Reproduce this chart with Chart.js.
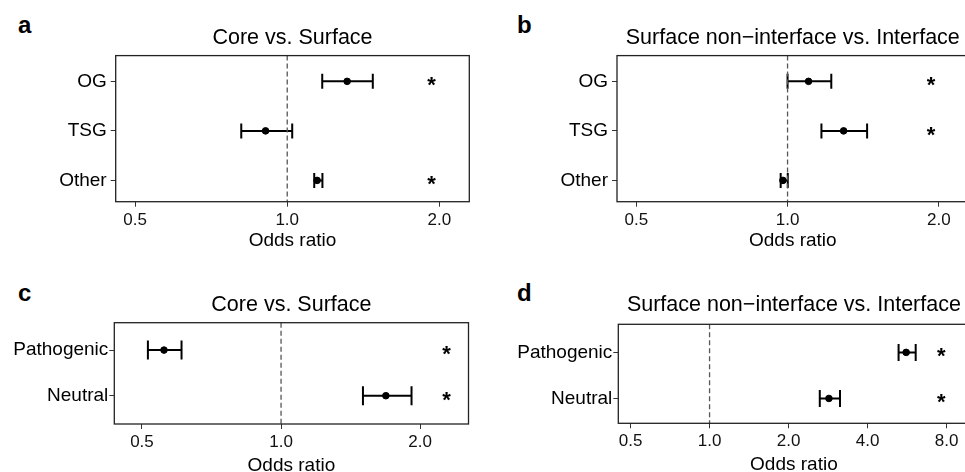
<!DOCTYPE html>
<html>
<head>
<meta charset="utf-8">
<script src="https://cdn.jsdelivr.net/npm/chart.js"></script>
<style>
  html, body { margin: 0; padding: 0; background: #fff; overflow: hidden; width: 965px; height: 472px; }
  .panel { position: absolute; }
  .tag { position: absolute; font: bold 24px "Liberation Sans", Arial, sans-serif; color: #000; line-height: 1; }
</style>
</head>
<body>
<div class="tag" style="left:18px;top:13px">a</div>
<div class="tag" style="left:517px;top:13px">b</div>
<div class="tag" style="left:18px;top:281px">c</div>
<div class="tag" style="left:517px;top:281px">d</div>

<canvas id="chartA" class="panel" width="480" height="260" style="left:0;top:0"></canvas>
<canvas id="chartB" class="panel" width="500" height="260" style="left:480px;top:0"></canvas>
<canvas id="chartC" class="panel" width="480" height="232" style="left:0;top:250px"></canvas>
<canvas id="chartD" class="panel" width="500" height="232" style="left:480px;top:250px"></canvas>

<script>
// ---- data ----
const geneCats = ["OG", "TSG", "Other"];
const variantCats = ["Pathogenic", "Neutral"];

// a: Core vs. Surface (gene classes)
const aOdds = [1.314, 0.906, 1.146];
const aLow  = [1.173, 0.811, 1.131];
const aHigh = [1.477, 1.023, 1.174];
const aSig  = [true, false, true];

// b: Surface non-interface vs. Interface (gene classes)
const bOdds = [1.101, 1.293, 0.979];
const bLow  = [1.000, 1.168, 0.969];
const bHigh = [1.222, 1.440, 1.001];
const bSig  = [true, true, false];

// c: Core vs. Surface (variants)
const cOdds = [0.558, 1.686];
const cLow  = [0.515, 1.504];
const cHigh = [0.609, 1.916];
const cSig  = [true, true];

// d: Surface non-interface vs. Interface (variants)
const dOdds = [5.61, 2.85];
const dLow  = [5.25, 2.63];
const dHigh = [6.10, 3.14];
const dSig  = [true, true];

const ticksSmall = [0.5, 1, 2];
const ticksWide = [0.5, 1, 2, 4, 8];

const FONT = '"Liberation Sans", Arial, sans-serif';

// draws the box around the panel and the significance stars
const panelPlugin = {
  id: "panelExtras",
  afterDatasetsDraw(chart) {
    const { ctx, chartArea: a, scales } = chart;
    const o = chart.options.plugins.panelExtras;
    ctx.save();
    ctx.fillStyle = "#000";
    ctx.font = "bold " + o.starSize + "px " + FONT;
    ctx.textAlign = "center";
    ctx.textBaseline = "alphabetic";
    o.sig.forEach((s, i) => {
      if (!s) return;
      const px = scales.x.getPixelForValue(o.starX);
      const py = scales.y.getPixelForValue(i + 1);
      ctx.fillText("*", px, py + o.starSize * 0.57 - 1.5);
    });
    ctx.strokeStyle = "#222";
    ctx.lineWidth = 1.3;
    ctx.strokeRect(a.left, a.top, a.right - a.left, a.bottom - a.top);
    ctx.restore();
  }
};

function makePanel(id, cfg) {
  const datasets = [];
  // reference line at OR = 1
  datasets.push({
    type: "line",
    data: [{ x: 1, y: cfg.yMin }, { x: 1, y: cfg.yMax }],
    borderColor: "#555",
    borderWidth: 1.3,
    borderDash: [5, 3],
    pointRadius: 0
  });
  // confidence intervals with caps
  cfg.cats.forEach((c, i) => {
    datasets.push({
      type: "line",
      data: [{ x: cfg.low[i], y: i + 1 }, { x: cfg.high[i], y: i + 1 }],
      borderColor: "#000",
      borderWidth: 2,
      pointStyle: "line",
      rotation: 90,
      pointRadius: cfg.cap,
      pointBorderWidth: 2,
      pointBorderColor: "#000"
    });
  });
  // point estimates
  datasets.push({
    type: "scatter",
    data: cfg.odds.map((v, i) => ({ x: v, y: i + 1 })),
    backgroundColor: "#000",
    borderColor: "#000",
    pointRadius: 3.3
  });

  return new Chart(document.getElementById(id), {
    type: "scatter",
    data: { datasets },
    plugins: [panelPlugin],
    options: {
      responsive: false,
      animation: false,
      layout: { padding: cfg.pad },
      plugins: {
        legend: { display: false },
        tooltip: { enabled: false },
        title: {
          display: true,
          text: cfg.title,
          fullSize: false,
          color: "#000",
          font: { family: FONT, size: 21.5, weight: "normal" },
          padding: cfg.titlePad
        },
        panelExtras: { sig: cfg.sig, starX: cfg.starX, starSize: 22 }
      },
      scales: {
        x: {
          type: "logarithmic",
          min: cfg.xMin,
          max: cfg.xMax,
          afterBuildTicks: s => { s.ticks = cfg.ticks.map(v => ({ value: v })); },
          afterFit: s => { s.height = cfg.xHeight; },
          ticks: {
            color: "#111",
            font: { family: FONT, size: 17 },
            padding: 3,
            maxRotation: 0,
            autoSkip: false,
            callback: v => Number(v).toFixed(1)
          },
          grid: { drawOnChartArea: false, drawTicks: true, tickLength: 5, tickColor: "#333", tickWidth: 1 },
          border: { display: false },
          title: {
            display: true,
            text: "Odds ratio",
            color: "#000",
            font: { family: FONT, size: 19 },
            padding: 0
          }
        },
        y: {
          type: "linear",
          reverse: true,
          min: cfg.yMin,
          max: cfg.yMax,
          afterBuildTicks: s => { s.ticks = cfg.cats.map((c, i) => ({ value: i + 1 })); },
          afterFit: s => { s.width = cfg.yWidth; },
          ticks: {
            color: "#000",
            font: { family: FONT, size: 19 },
            padding: cfg.yPad,
            autoSkip: false,
            callback: v => cfg.cats[Math.round(v) - 1]
          },
          grid: { drawOnChartArea: false, drawTicks: true, tickLength: 5, tickColor: "#333", tickWidth: 1 },
          border: { display: false }
        }
      }
    }
  });
}

makePanel("chartA", {
  title: "Core vs. Surface", cats: geneCats,
  odds: aOdds, low: aLow, high: aHigh, sig: aSig, starX: 1.93,
  xMin: 0.4576, xMax: 2.293, ticks: ticksSmall,
  yMin: 0.48, yMax: 3.43, cap: 7.5,
  yWidth: 115.7, xHeight: 50.5, yPad: 4,
  pad: { left: 0, right: 10.7, top: 0, bottom: 7.8 },
  titlePad: { top: 25.6, bottom: 4.2 }
});

makePanel("chartB", {
  title: "Surface non\u2212interface vs. Interface", cats: geneCats,
  odds: bOdds, low: bLow, high: bHigh, sig: bSig, starX: 1.93,
  xMin: 0.4576, xMax: 2.293, ticks: ticksSmall,
  yMin: 0.48, yMax: 3.43, cap: 7.5,
  yWidth: 137, xHeight: 50.5, yPad: 4,
  pad: { left: 0, right: 11.4, top: 0, bottom: 7.8 },
  titlePad: { top: 25.6, bottom: 4.2 }
});

makePanel("chartC", {
  title: "Core vs. Surface", cats: variantCats,
  odds: cOdds, low: cLow, high: cHigh, sig: cSig, starX: 2.28,
  xMin: 0.4356, xMax: 2.545, ticks: ticksSmall,
  yMin: 0.40, yMax: 2.62, cap: 9.5,
  yWidth: 114.3, xHeight: 52.9, yPad: 1,
  pad: { left: 0, right: 6.7, top: 0, bottom: 5.1 },
  titlePad: { top: 42.4, bottom: 4.5 }
});

makePanel("chartD", {
  title: "Surface non\u2212interface vs. Interface", cats: variantCats,
  odds: dOdds, low: dLow, high: dHigh, sig: dSig, starX: 7.63,
  xMin: 0.4491, xMax: 9.78, ticks: ticksWide,
  yMin: 0.39, yMax: 2.54, cap: 8.5,
  yWidth: 138.3, xHeight: 53.1, yPad: 1,
  pad: { left: 0, right: 5, top: 0, bottom: 5.6 },
  titlePad: { top: 42.4, bottom: 6.1 }
});
</script>
</body>
</html>
